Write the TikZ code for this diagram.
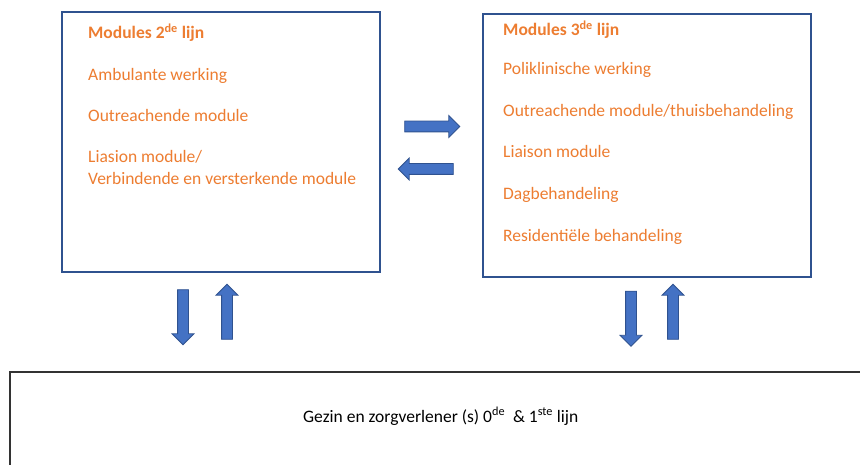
\documentclass[tikz,border=0pt]{standalone}
\usepackage{fontspec}
\setmainfont{Carlito}
\usetikzlibrary{shapes.arrows}
\definecolor{lijnkleur}{HTML}{2F528F}
\definecolor{pijlkleur}{HTML}{4472C4}
\definecolor{oranje}{HTML}{ED7D31}

\begin{document}
\begin{tikzpicture}[x=1pt, y=1pt,
    kader/.style={rectangle, draw=lijnkleur, line width=1.1pt, fill=white},
    item/.style={anchor=base west, inner sep=0pt, text=oranje, font=\fontsize{17.5}{22}\selectfont, align=left},
    blok/.style={single arrow, draw=lijnkleur, fill=pijlkleur, line width=0.8pt, inner xsep=0pt, inner ysep=5pt, minimum height=55pt, single arrow head extend=5.5pt, single arrow head indent=0pt}]

                    \useasboundingbox (0,0) rectangle (860,-465);

                    \node[kader, minimum width=318, minimum height=260] (lijn2) at (221,-142) {};
                    \node[kader, minimum width=328, minimum height=263] (lijn3) at (647,-145.5) {};
                    \node[rectangle, draw=black!80, line width=1.1pt, minimum width=880, minimum height=120] (gezin) at (450,-432) {};

                    \node[item] (t2) at (88,-39) {\textbf{Modules 2\textsuperscript{de} lijn}};
                    \node[item] (a2) at (88,-81) {Ambulante werking};
                    \node[item] (b2) at (88,-122) {Outreachende module};
                    \node[item] (c2) at (88,-185) {Liasion module/\\Verbindende en versterkende module};

                    \node[item] (t3) at (503,-36) {\textbf{Modules 3\textsuperscript{de} lijn}};
                    \node[item] (a3) at (503,-75) {Poliklinische werking};
                    \node[item] (b3) at (503,-117) {Outreachende module/thuisbehandeling};
                    \node[item] (c3) at (503,-158) {Liaison module};
                    \node[item] (d3) at (503,-200) {Dagbehandeling};
                    \node[item] (e3) at (503,-242) {Residentiële behandeling};

                    \node[anchor=base west, inner sep=0pt, font=\fontsize{17.5}{22}\selectfont] (gezintekst) at (303,-422) {Gezin en zorgverlener (s) 0\textsuperscript{de}~ \& 1\textsuperscript{ste} lijn};

                    \node[blok] (naar3) at (429.5,-126.5) {};
                    \node[blok, rotate=180] (naar2) at (428.5,-169) {};
                    \node[blok, rotate=-90] (neer2) at (183,-314.5) {};
                    \node[blok, rotate=90] (op2) at (227,-314.5) {};
                    \node[blok, rotate=-90] (neer3) at (631,-316) {};
                    \node[blok, rotate=90] (op3) at (673,-314.5) {};

\end{tikzpicture}
\end{document}
